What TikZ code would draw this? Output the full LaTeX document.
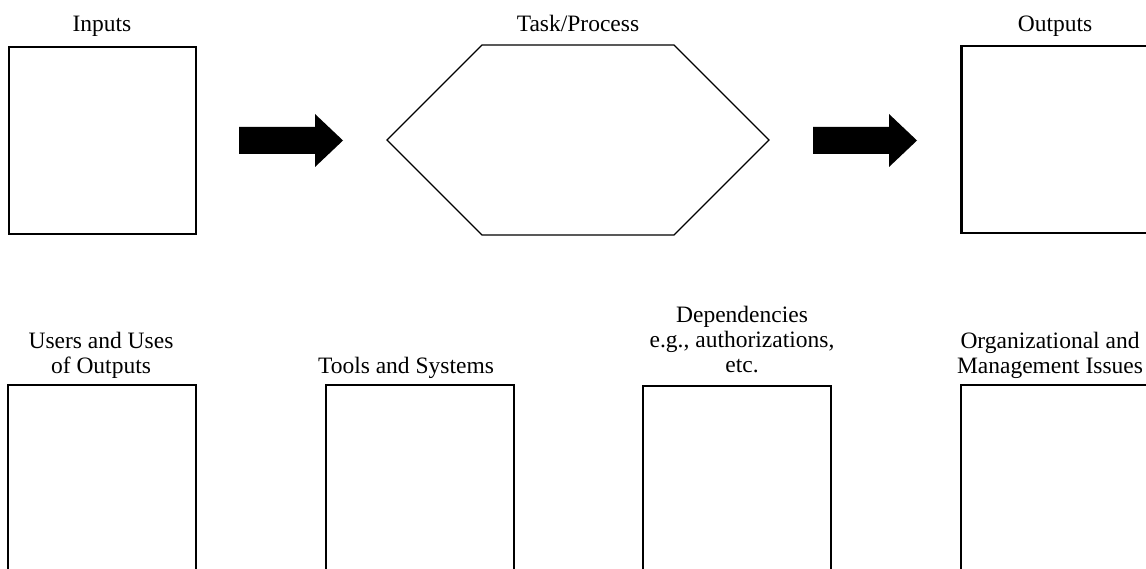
\documentclass[tikz,border=0pt]{standalone}
\usepackage{fontspec}
\setmainfont{Liberation Serif}
\begin{document}
\begin{tikzpicture}[x=1pt,y=-1pt,
  box/.style={draw=black,line width=1.2pt,minimum width=187pt,minimum height=187pt,inner sep=0pt,outer sep=0pt},
  tallbox/.style={draw=black,line width=1.2pt,minimum width=188pt,minimum height=190pt,inner sep=0pt,outer sep=0pt,anchor=north west},
  toplabel/.style={anchor=base,inner sep=0pt,font=\fontsize{23.5}{26}\selectfont},
  lowlabel/.style={anchor=south,inner sep=0pt,text depth=0pt,align=center,font=\fontsize{23.5}{25}\selectfont},
  bigarrow/.style={fill=black,draw=none}]
\useasboundingbox[fill=white] (0,0) rectangle (1146,569);

% top row
\node[box] (in) at (102.5,140.5) {};
\node[box,line width=2.2pt] (out) at (1055,139.5) {};
\node[toplabel] (inl) at (102,32) {Inputs};
\node[toplabel] (tpl) at (578,32) {Task/Process};
\node[toplabel] (outl) at (1055,32) {Outputs};

% hexagon
\coordinate (h1) at (387,140);
\coordinate (h2) at (482,45);
\coordinate (h3) at (674,45);
\coordinate (h4) at (769,140);
\coordinate (h5) at (674,235);
\coordinate (h6) at (482,235);
\draw[line width=1.3pt,line join=miter] (h1) -- (h2) -- (h3) -- (h4) -- (h5) -- (h6) -- cycle;

% block arrows
\fill[bigarrow] (239,127) -- (315,127) -- (315,114) -- (343,140.5) -- (315,167) -- (315,154) -- (239,154) -- cycle;
\fill[bigarrow] (813,127) -- (889,127) -- (889,114) -- (917,140.5) -- (889,167) -- (889,154) -- (813,154) -- cycle;

% bottom row
\node[tallbox] (u) at (8,385) {};
\node[tallbox] (t) at (326,385) {};
\node[tallbox] (d) at (643,386) {};
\node[tallbox] (o) at (961,385) {};

\node[lowlabel] (ul) at (101,374) {Users and Uses\\of Outputs};
\node[lowlabel] (tl) at (406,374) {Tools and Systems};
\node[lowlabel] (dl) at (742,373) {Dependencies\\e.g., authorizations,\\etc.};
\node[lowlabel] (ol) at (1050,374) {Organizational and\\Management Issues};
\end{tikzpicture}
\end{document}
